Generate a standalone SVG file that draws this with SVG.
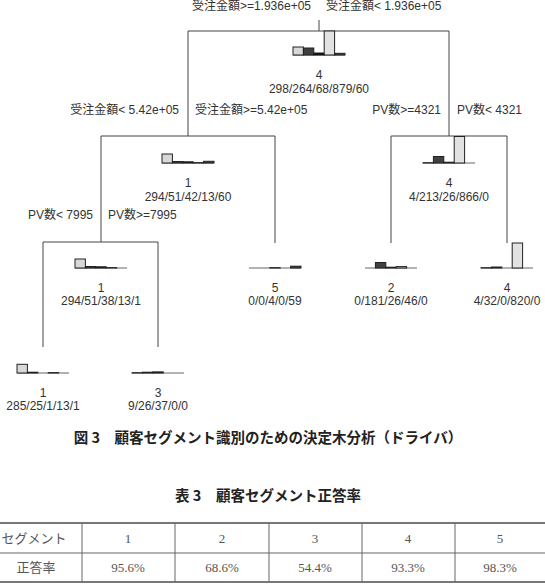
<svg xmlns="http://www.w3.org/2000/svg" width="545" height="585" viewBox="0 0 545 585">
<style>
.t{font-family:"Liberation Sans","Noto Sans CJK JP",sans-serif;font-size:12px;fill:#333}
.m{text-anchor:middle}
.e{text-anchor:end}
.ln{stroke:#444;stroke-width:1;fill:none}
.base{stroke:#999;stroke-width:1.5}
.b{stroke:#222;stroke-width:1}
.c1{fill:#d8d8d8}.c2{fill:#404040}.c3{fill:#000}.c4{fill:#e2e2e2}.c5{fill:#404040}
.cap{font-family:"Noto Sans CJK JP",sans-serif;font-size:14.5px;font-weight:bold;fill:#222;text-anchor:middle}
.tb{font-family:"Liberation Serif","Noto Sans CJK JP",serif;font-size:13px;fill:#555;text-anchor:middle}
.tl{stroke:#666;stroke-width:1}
.tlb{stroke:#777;stroke-width:2}
</style>
<rect width="545" height="585" fill="#fff"/>
<g id="connectors">
<line class="ln" x1="319" y1="20" x2="319" y2="31"/>
<line class="ln" x1="188" y1="31" x2="449" y2="31"/>
<line class="ln" x1="188" y1="31" x2="188" y2="136"/>
<line class="ln" x1="449" y1="31" x2="449" y2="136"/>
<line class="ln" x1="101" y1="136" x2="275" y2="136"/>
<line class="ln" x1="101" y1="136" x2="101" y2="242"/>
<line class="ln" x1="275" y1="136" x2="275" y2="243"/>
<line class="ln" x1="391" y1="136" x2="507" y2="136"/>
<line class="ln" x1="391" y1="136" x2="391" y2="243"/>
<line class="ln" x1="507" y1="136" x2="507" y2="243"/>
<line class="ln" x1="43" y1="242" x2="158" y2="242"/>
<line class="ln" x1="43" y1="242" x2="43" y2="347"/>
<line class="ln" x1="158" y1="242" x2="158" y2="347"/>
</g>
<g id="split-labels" class="t">
<text class="e" x="311" y="10">受注金額&gt;=1.936e+05</text>
<text x="326" y="10">受注金額&lt; 1.936e+05</text>
<text class="e" x="179" y="114">受注金額&lt; 5.42e+05</text>
<text x="195" y="114">受注金額&gt;=5.42e+05</text>
<text class="e" x="441" y="114">PV数&gt;=4321</text>
<text x="457" y="114">PV数&lt; 4321</text>
<text class="e" x="93" y="219">PV数&lt; 7995</text>
<text x="108" y="219">PV数&gt;=7995</text>
</g>
<g id="node-root">
<line class="base" x1="293" y1="55" x2="345" y2="55"/>
<rect class="b c1" x="293" y="47" width="10.4" height="8"/>
<rect class="b c2" x="303.4" y="48" width="10.4" height="7"/>
<rect class="b c3" x="313.8" y="53" width="10.4" height="2"/>
<rect class="b c4" x="324.2" y="31" width="10.4" height="24"/>
<rect class="b c5" x="334.6" y="53.3" width="10.4" height="1.7"/>
<text class="t m" x="319" y="79">4</text>
<text class="t m" x="319" y="93">298/264/68/879/60</text>
</g>
<g id="node-2">
<line class="base" x1="162" y1="163" x2="214" y2="163"/>
<rect class="b c1" x="162" y="154" width="10.4" height="9"/>
<rect class="b c2" x="172.4" y="161.5" width="10.4" height="1.5"/>
<rect class="b c3" x="182.8" y="161.8" width="10.4" height="1.2"/>
<rect class="b c4" x="193.2" y="162.6" width="10.4" height="0.4"/>
<rect class="b c5" x="203.6" y="161.3" width="10.4" height="1.7"/>
<text class="t m" x="188" y="187">1</text>
<text class="t m" x="188" y="201">294/51/42/13/60</text>
</g>
<g id="node-3">
<line class="base" x1="423" y1="163" x2="475" y2="163"/>
<rect class="b c1" x="423" y="162.7" width="10.4" height="0.3"/>
<rect class="b c2" x="433.4" y="156.5" width="10.4" height="6.5"/>
<rect class="b c3" x="443.8" y="162.2" width="10.4" height="0.8"/>
<rect class="b c4" x="454.2" y="136.5" width="10.4" height="26.5"/>
<text class="t m" x="449" y="187">4</text>
<text class="t m" x="449" y="201">4/213/26/866/0</text>
</g>
<g id="node-4">
<line class="base" x1="75" y1="268" x2="127" y2="268"/>
<rect class="b c1" x="75" y="259" width="10.4" height="9"/>
<rect class="b c2" x="85.4" y="266.5" width="10.4" height="1.5"/>
<rect class="b c3" x="95.8" y="266.8" width="10.4" height="1.2"/>
<rect class="b c4" x="106.2" y="267.6" width="10.4" height="0.4"/>
<text class="t m" x="101" y="292">1</text>
<text class="t m" x="101" y="305">294/51/38/13/1</text>
</g>
<g id="node-5">
<line class="base" x1="249" y1="268" x2="301" y2="268"/>
<rect class="b c3" x="269.8" y="267.7" width="10.4" height="0.3"/>
<rect class="b c5" x="290.6" y="266.2" width="10.4" height="1.8"/>
<text class="t m" x="275" y="292">5</text>
<text class="t m" x="275" y="305">0/0/4/0/59</text>
</g>
<g id="node-6">
<line class="base" x1="365" y1="268" x2="417" y2="268"/>
<rect class="b c2" x="375.4" y="262.5" width="10.4" height="5.5"/>
<rect class="b c3" x="385.8" y="267.2" width="10.4" height="0.8"/>
<rect class="b c4" x="396.2" y="266.6" width="10.4" height="1.4"/>
<text class="t m" x="391" y="292">2</text>
<text class="t m" x="391" y="305">0/181/26/46/0</text>
</g>
<g id="node-7">
<line class="base" x1="481" y1="268" x2="533" y2="268"/>
<rect class="b c1" x="481" y="267.7" width="10.4" height="0.3"/>
<rect class="b c2" x="491.4" y="267" width="10.4" height="1"/>
<rect class="b c4" x="512.2" y="243" width="10.4" height="25"/>
<text class="t m" x="507" y="292">4</text>
<text class="t m" x="507" y="305">4/32/0/820/0</text>
</g>
<g id="node-8">
<line class="base" x1="17" y1="373" x2="69" y2="373"/>
<rect class="b c1" x="17" y="364.3" width="10.4" height="8.7"/>
<rect class="b c2" x="27.4" y="372.2" width="10.4" height="0.8"/>
<rect class="b c4" x="48.2" y="372.6" width="10.4" height="0.4"/>
<text class="t m" x="43" y="397">1</text>
<text class="t m" x="43" y="410">285/25/1/13/1</text>
</g>
<g id="node-9">
<line class="base" x1="132" y1="373" x2="184" y2="373"/>
<rect class="b c1" x="132" y="372.7" width="10.4" height="0.3"/>
<rect class="b c2" x="142.4" y="372.2" width="10.4" height="0.8"/>
<rect class="b c3" x="152.8" y="371.9" width="10.4" height="1.1"/>
<text class="t m" x="158" y="397">3</text>
<text class="t m" x="158" y="410">9/26/37/0/0</text>
</g>
<text class="cap" x="268" y="443">図 3　顧客セグメント識別のための決定木分析（ドライバ）</text>
<text class="cap" x="268" y="501">表 3　顧客セグメント正答率</text>
<g id="table">
<line class="tlb" x1="0" y1="523" x2="545" y2="523"/>
<line class="tl" x1="0" y1="553" x2="545" y2="553"/>
<line class="tlb" x1="0" y1="582" x2="545" y2="582"/>
<line class="tl" x1="82" y1="523" x2="82" y2="582"/>
<line class="tl" x1="175" y1="523" x2="175" y2="582"/>
<line class="tl" x1="269" y1="523" x2="269" y2="582"/>
<line class="tl" x1="362" y1="523" x2="362" y2="582"/>
<line class="tl" x1="455" y1="523" x2="455" y2="582"/>
<text class="tb" x="34" y="543">セグメント</text>
<text class="tb" x="128" y="543">1</text>
<text class="tb" x="222" y="543">2</text>
<text class="tb" x="315" y="543">3</text>
<text class="tb" x="408" y="543">4</text>
<text class="tb" x="500" y="543">5</text>
<text class="tb" x="36" y="572">正答率</text>
<text class="tb" x="128" y="572">95.6%</text>
<text class="tb" x="222" y="572">68.6%</text>
<text class="tb" x="315" y="572">54.4%</text>
<text class="tb" x="408" y="572">93.3%</text>
<text class="tb" x="500" y="572">98.3%</text>
</g>
</svg>
